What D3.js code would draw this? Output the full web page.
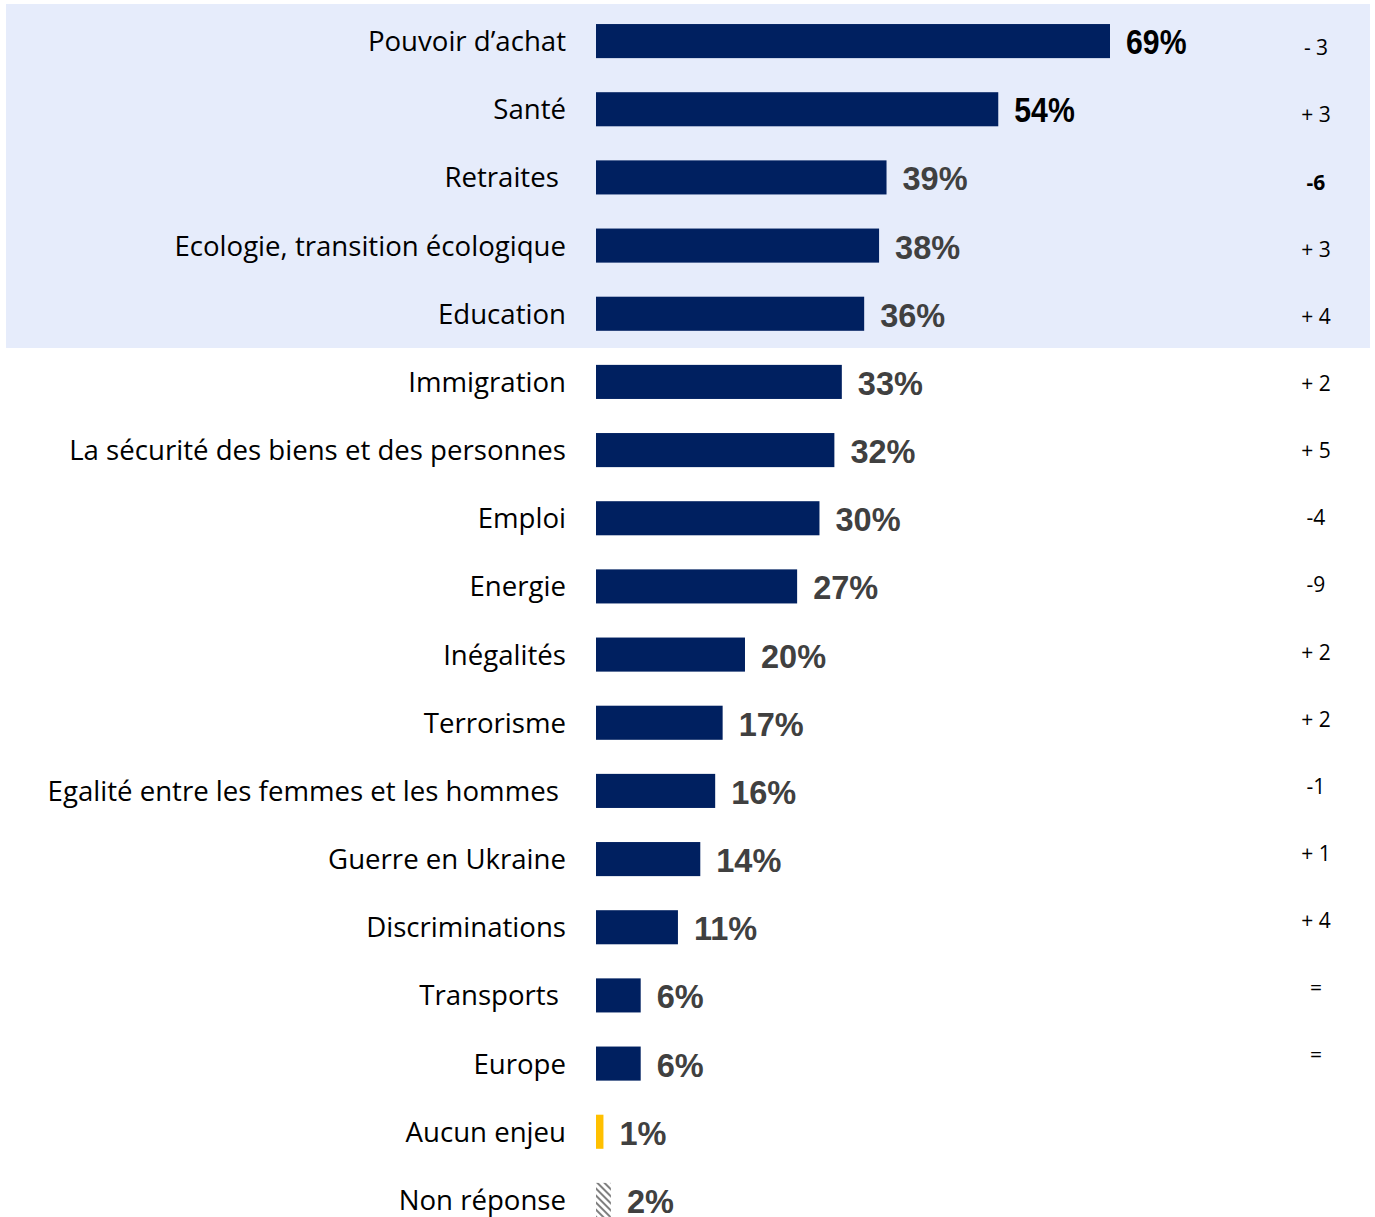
<!DOCTYPE html>
<html>
<head>
<meta charset="utf-8">
<script src="https://cdn.jsdelivr.net/npm/d3@7"></script>
<style>
  body { margin: 0; background: #fff; }
  text { white-space: pre; }
</style>
</head>
<body>
<svg id="chart" width="1375" height="1217"></svg>
<script>
// enjeux - data
let categories = [
  "Pouvoir d\u2019achat", "Santé", "Retraites ", "Ecologie, transition écologique",
  "Education", "Immigration", "La sécurité des biens et des personnes", "Emploi",
  "Energie", "Inégalités", "Terrorisme", "Egalité entre les femmes et les hommes ",
  "Guerre en Ukraine", "Discriminations", "Transports ", "Europe",
  "Aucun enjeu", "Non réponse"
]
let values = [69, 54, 39, 38, 36, 33, 32, 30, 27, 20, 17, 16, 14, 11, 6, 6, 1, 2]
let changes = ["- 3", "+ 3", "-6", "+ 3", "+ 4", "+ 2", "+ 5", "-4", "-9", "+ 2", "+ 2", "-1", "+ 1", "+ 4", "=", "="]

let svg = d3.select("#chart")

// pattern for non réponse
let defs = svg.append("defs")
let pat = defs.append("pattern")
  .attr("id", "hatch")
  .attr("width", 5).attr("height", 5)
  .attr("patternUnits", "userSpaceOnUse")
  .attr("patternTransform", "rotate(-45)")
pat.append("rect").attr("width", 5).attr("height", 5).attr("fill", "#fff")
pat.append("rect").attr("width", 2).attr("height", 5).attr("fill", "#808080")

let x = d3.scaleLinear()
  .domain([0, 69])
  .range([596, 1110])

let y = d3.scaleBand()
  .domain(categories)
  .range([24 - 17, 1183 + 34 + 17])
  .paddingInner(0.5)
  .paddingOuter(0.25)

// the change column is spaced a bit tighter than the bars
let yc = d3.scalePoint()
  .domain(changes.map((d, i) => i))
  .range([48, 1055])

// blue band behind the top five
svg.append("rect")
  .attr("x", 6)
  .attr("y", 4)
  .attr("width", 1364)
  .attr("height", 344)
  .attr("fill", "#E6ECFB")

function barColor(d) {
  if (d === "Aucun enjeu") return "#FFC000"
  if (d === "Non réponse") return "url(#hatch)"
  return "#002060"
}

svg.selectAll(".bar")
  .data(categories)
  .enter()
  .append("rect")
  .attr("class", "bar")
  .attr("x", x(0))
  .attr("y", d => y(d))
  .attr("width", (d, i) => x(values[i]) - x(0))
  .attr("height", y.bandwidth())
  .attr("fill", barColor)

// category labels
svg.selectAll(".cat")
  .data(categories)
  .enter()
  .append("text")
  .attr("class", "cat")
  .attr("x", 566)
  .attr("y", d => y(d) + y.bandwidth() / 2)
  .attr("dy", "0.36em")
  .attr("text-anchor", "end")
  .style("font-family", "'Open Sans', sans-serif")
  .style("font-size", "27.6px")
  .style("fill", "#000")
  .text(d => d)

// value labels (first two: black, condensed)
svg.selectAll(".val")
  .data(categories)
  .enter()
  .append("text")
  .attr("class", "val")
  .attr("transform", (d, i) => {
    let tx = x(values[i]) + 16
    let ty = y(d) + y.bandwidth() / 2
    return "translate(" + tx + "," + ty + ")" + (i < 2 ? " scale(0.84,1)" : "")
  })
  .attr("dy", (d, i) => i < 2 ? "0.36em" : "0.4em")
  .style("font-family", "'Liberation Sans', Arial, sans-serif")
  .style("font-size", (d, i) => i < 2 ? "36px" : "32.5px")
  .style("font-weight", "bold")
  .style("fill", (d, i) => i < 2 ? "#000" : "#404040")
  .text((d, i) => values[i] + "%")

// evolution
svg.selectAll(".chg")
  .data(changes)
  .enter()
  .append("text")
  .attr("class", "chg")
  .attr("x", 1316)
  .attr("y", (d, i) => yc(i))
  .attr("dy", "0.35em")
  .attr("text-anchor", "middle")
  .style("font-family", "'Open Sans', sans-serif")
  .style("font-size", "21px")
  .style("font-weight", d => d === "-6" ? "bold" : "normal")
  .style("fill", "#000")
  .text(d => d)
</script>
</body>
</html>
